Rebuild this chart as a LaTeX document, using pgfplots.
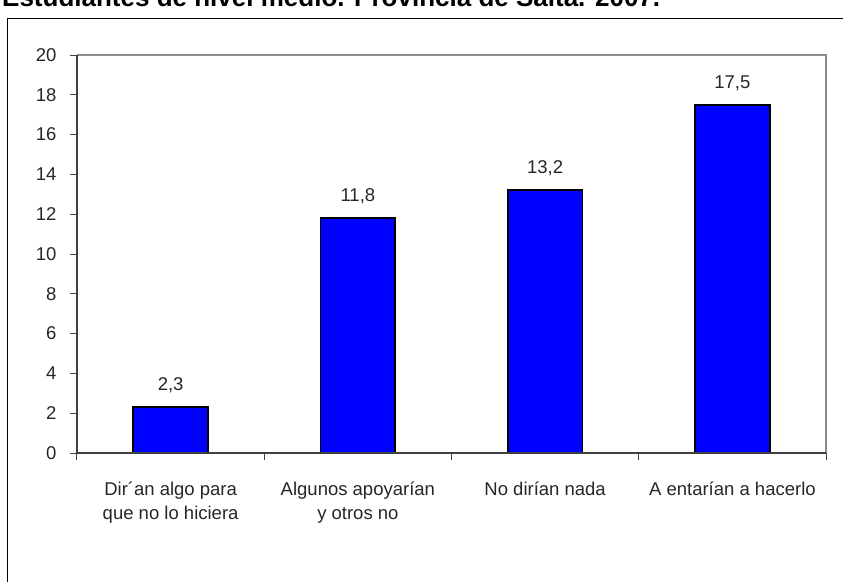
\documentclass[border=0pt]{standalone}
\usepackage{fontspec}
\setmainfont{Liberation Sans}
\usepackage{pgfplots}
\pgfplotsset{compat=1.18}
\definecolor{axisdark}{HTML}{404040}
\definecolor{axisgray}{HTML}{8C8C8C}
\newcommand{\lblfont}{\fontsize{18.5}{24}\selectfont}
\begin{document}
\begin{tikzpicture}
\useasboundingbox (0pt,0pt) rectangle (843pt,-581pt);
\clip (0pt,0pt) rectangle (843pt,-581pt);
% title, cut off at the top as in the source image
\node[anchor=base west, inner sep=0pt, font=\fontsize{26}{30}\selectfont\bfseries]
  at (2pt,-6.5pt) {Estudiantes de nivel medio. Provincia de Salta. 2007.};
% outer frame
\draw[line width=1.5pt] (7.5pt,-600pt) -- (7.5pt,-18.5pt) -- (860pt,-18.5pt);

\begin{axis}[
    at = {(77pt,-453pt)},
    anchor = south west,
    scale only axis,
    width = 749pt,
    height = 398pt,
    xmin = -0.5, xmax = 3.5,
    ymin = 0, ymax = 20,
    ytick = {0,2,...,20},
    xtick = {0,1,2,3},
    xticklabels = {{Dir´an algo para\\que no lo hiciera},
                   {Algunos apoyarían\\y otros no},
                   {No dirían nada},
                   {A entarían a hacerlo}},
    minor xtick = {-0.5,0.5,1.5,2.5,3.5},
    major x tick style = {draw = none},
    tick align = outside,
    xtick pos = bottom,
    ytick pos = left,
    major tick length = 7pt,
    minor tick length = 7pt,
    tick style = {color = axisdark, line width = 1pt},
    axis line style = {draw = none},
    /pgf/number format/assume math mode = true,
    yticklabel style = {font = \lblfont, text = black!85, xshift = -10pt},
    xticklabel style = {font = \lblfont, text = black!85, align = center,
                        anchor = north, yshift = -18pt},
    ybar,
    bar width = 0.4,
    nodes near coords = {\pgfmathprintnumber[fixed, fixed zerofill, precision=1, use comma]{\pgfplotspointmeta}},
    nodes near coords style = {font = \lblfont, text = black!85, anchor = south, yshift = 10pt},
    clip = false
]
    \addplot[fill = blue, draw = black, line width = 1.8pt]
    coordinates {
        (0, 2.3)
        (1, 11.8)
        (2, 13.2)
        (3, 17.5)
    };

    \draw[axisgray, line width = 1.5pt] (rel axis cs:0,1) -- (rel axis cs:1,1) -- (rel axis cs:1,0);
    \draw[axisdark, line width = 1.5pt] (rel axis cs:0,1) -- (rel axis cs:0,0) -- (rel axis cs:1,0);
\end{axis}
\end{tikzpicture}
\end{document}
